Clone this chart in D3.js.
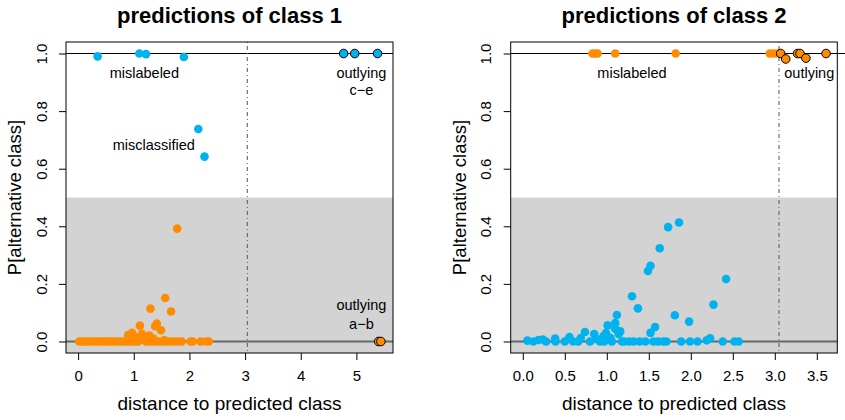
<!DOCTYPE html>
<html>
<head>
<meta charset="utf-8">
<script src="https://cdn.jsdelivr.net/npm/d3@7"></script>
<style>
  body { margin: 0; background: #fff; }
  text { font-family: "Liberation Sans", Arial, Helvetica, sans-serif; fill: #000; }
</style>
</head>
<body>
<div id="chart"></div>
<script>
var W = 845, H = 420;

// panel 1 : predictions of class 1
var c1Blue = [[0.35,0.99],[1.10,1.0],[1.22,0.998],[1.90,0.988],[2.16,0.738],[2.27,0.642]];
var c1BlueOut = [[4.77,1.0],[4.97,1.0],[5.38,1.0]];
var c1Orange = [
  [1.78,0.392],[1.565,0.151],[1.30,0.114],[1.67,0.104],[1.415,0.062],[1.11,0.055],
  [1.385,0.053],[1.49,0.039],[0.97,0.030],[1.145,0.027],[0.90,0.022],[1.28,0.021],
  [1.02,0.015],[1.05,0.008],[0.95,0.010],[1.20,0.012],[1.35,0.010],[1.55,0.005],
  [0.02,0],[0.07,0],[0.12,0],[0.17,0],[0.22,0],[0.28,0],[0.33,0],[0.38,0],[0.44,0],
  [0.50,0],[0.55,0],[0.60,0],[0.65,0],[0.71,0],[0.77,0],[0.82,0],[0.87,0],[0.93,0],
  [0.98,0],[1.03,0],[1.08,0],[1.22,0],[1.27,0],[1.33,0],[1.38,0],[1.43,0],[1.50,0],
  [1.56,0],[1.62,0],[1.68,0],[1.74,0],[1.80,0],[1.86,0],[2.02,0],[2.06,0],[2.20,0],
  [2.30,0],[2.35,0]
];
var c1OrangeOut = [[5.40,0],[5.44,0]];

// panel 2 : predictions of class 2
var c2Orange = [[0.83,1],[0.86,1],[0.89,1],[1.10,1],[1.82,1],[2.94,1],[2.98,1],[3.02,1]];
var c2OrangeOut = [[3.07,1.0],[3.13,0.981],[3.27,1.0],[3.30,1.0],[3.37,0.984],[3.61,1.0]];
var c2Blue = [
  [1.86,0.413],[1.73,0.397],[1.63,0.324],[1.52,0.263],[1.49,0.245],[2.42,0.217],
  [1.30,0.157],[2.27,0.128],[1.37,0.115],[1.12,0.092],[1.81,0.091],[1.98,0.069],
  [1.10,0.064],[1.01,0.056],[1.575,0.050],[1.10,0.044],[1.16,0.035],[0.74,0.033],
  [1.52,0.030],[0.99,0.029],[0.85,0.026],[1.14,0.026],[0.96,0.018],[0.555,0.015],
  [1.04,0.013],[0.69,0.012],[2.23,0.011],[0.385,0.010],[0.87,0.009],[0.238,0.007],
  [0.186,0.005],[2.19,0.004],[0.055,0.003],
  [0.126,0],[0.277,0],[0.39,0],[0.50,0],[0.60,0],[0.66,0],[0.80,0],[0.92,0],[0.97,0],
  [1.06,0],[1.18,0],[1.21,0],[1.27,0],[1.32,0],[1.39,0],[1.46,0],[1.555,0],[1.61,0],
  [1.67,0],[1.71,0],[1.885,0],[1.99,0],[2.08,0],[2.38,0],[2.52,0],[2.57,0]
];

var xTicks1 = [0,1,2,3,4,5];
var xTicks2 = [0,0.5,1,1.5,2,2.5,3,3.5];
var yTicks = [0,0.2,0.4,0.6,0.8,1.0];

var BLUE = "#00B2EE", ORANGE = "#FF8C00";

var svg = d3.select("#chart").append("svg")
  .attr("width", W).attr("height", H);

var top_ = 42, bottom_ = 353;
// R style 4% padding on data range [0, 1]
var y = d3.scaleLinear().domain([-0.04, 1.04]).range([bottom_, top_]);

function drawPanel(p) {
  var span = p.xmax - 0;
  var x = d3.scaleLinear().domain([-0.04 * span, p.xmax + 0.04 * span]).range([p.left, p.right]);
  var g = svg.append("g");

  // grey region P < 0.5
  g.append("rect")
    .attr("x", p.left).attr("y", y(0.5))
    .attr("width", p.right - p.left).attr("height", bottom_ - y(0.5))
    .attr("fill", "#D3D3D3");

  // reference lines
  g.append("line")
    .attr("x1", p.left).attr("x2", p.right).attr("y1", y(0)).attr("y2", y(0))
    .attr("stroke", "#666").attr("stroke-width", 2.2);
  g.append("line")
    .attr("x1", p.left).attr("x2", p.lineEnd).attr("y1", y(1)).attr("y2", y(1))
    .attr("stroke", "#000").attr("stroke-width", 1.1);
  g.append("line")
    .attr("x1", x(p.cut)).attr("x2", x(p.cut)).attr("y1", top_).attr("y2", bottom_)
    .attr("stroke", "#555").attr("stroke-width", 1)
    .attr("stroke-dasharray", "1,3,4,3");

  // points
  p.groups.forEach(function(gr) {
    g.selectAll(null)
      .data(gr.data)
      .enter()
      .append("circle")
      .attr("cx", function(d) { return x(d[0]); })
      .attr("cy", function(d) { return y(d[1]); })
      .attr("r", 4.3)
      .attr("fill", gr.color)
      .attr("stroke", gr.outline ? "#000" : "none")
      .attr("stroke-width", 1);
  });

  // annotations
  p.notes.forEach(function(n) {
    g.append("text")
      .attr("x", x(n.x)).attr("y", y(n.y))
      .attr("text-anchor", "middle")
      .attr("font-size", "14.5px")
      .attr("fill", "#222")
      .text(n.t);
  });

  // box
  g.append("rect")
    .attr("x", p.left).attr("y", top_)
    .attr("width", p.right - p.left).attr("height", bottom_ - top_)
    .attr("fill", "none").attr("stroke", "#000").attr("stroke-width", 1);

  // x axis
  var xa = g.append("g").attr("transform", "translate(0," + bottom_ + ")")
    .call(d3.axisBottom(x).tickValues(p.xTicks).tickSize(7).tickPadding(10)
      .tickFormat(p.xFormat));
  xa.select(".domain").remove();
  xa.selectAll("text").attr("font-size", "15px").attr("font-family", null);

  // y axis, labels rotated like R (las = 0)
  var ya = g.append("g").attr("transform", "translate(" + p.left + ",0)")
    .call(d3.axisLeft(y).tickValues(yTicks).tickSize(7).tickFormat(d3.format(".1f")));
  ya.select(".domain").remove();
  ya.selectAll("text")
    .attr("font-size", "15px").attr("font-family", null)
    .attr("x", 0).attr("y", 0).attr("dy", null)
    .attr("text-anchor", "middle")
    .attr("transform", "translate(-19.3,0) rotate(-90)");

  // titles
  svg.append("text")
    .attr("x", (p.left + p.right) / 2).attr("y", 23)
    .attr("text-anchor", "middle")
    .attr("font-size", "22px").attr("font-weight", "bold")
    .text(p.title);
  svg.append("text")
    .attr("x", (p.left + p.right) / 2).attr("y", 410)
    .attr("text-anchor", "middle")
    .attr("font-size", "19px")
    .text("distance to predicted class");
  svg.append("text")
    .attr("transform", "translate(" + (p.left - 45) + "," + ((top_ + bottom_) / 2) + ") rotate(-90)")
    .attr("text-anchor", "middle")
    .attr("font-size", "18.5px")
    .text("P[alternative class]");
}

drawPanel({
  left: 66, right: 393, lineEnd: 393, xmax: 5.44, cut: 3.04,
  xTicks: xTicks1, xFormat: d3.format("d"),
  title: "predictions of class 1",
  groups: [
    {data: c1Orange, color: ORANGE},
    {data: c1Blue, color: BLUE},
    {data: c1BlueOut, color: BLUE, outline: true},
    {data: c1OrangeOut, color: ORANGE, outline: true}
  ],
  notes: [
    {t: "mislabeled", x: 1.19, y: 0.915},
    {t: "misclassified", x: 1.36, y: 0.665},
    {t: "outlying", x: 5.09, y: 0.915},
    {t: "c\u2212e", x: 5.09, y: 0.855},
    {t: "outlying", x: 5.09, y: 0.11},
    {t: "a\u2212b", x: 5.09, y: 0.045}
  ]
});

drawPanel({
  left: 510.7, right: 837.3, lineEnd: 845, xmax: 3.6, cut: 3.05,
  xTicks: xTicks2, xFormat: d3.format(".1f"),
  title: "predictions of class 2",
  groups: [
    {data: c2Blue, color: BLUE},
    {data: c2Orange, color: ORANGE},
    {data: c2OrangeOut, color: ORANGE, outline: true}
  ],
  notes: [
    {t: "mislabeled", x: 1.30, y: 0.915},
    {t: "outlying", x: 3.41, y: 0.915}
  ]
});
</script>
</body>
</html>
